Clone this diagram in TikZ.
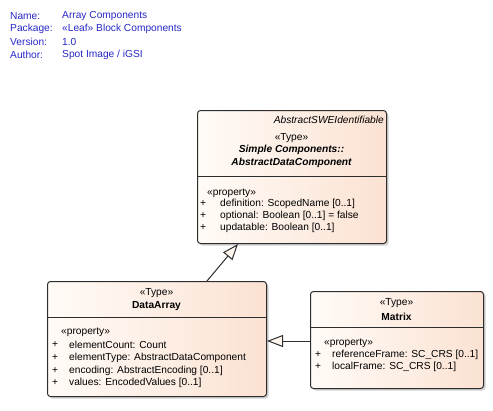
\documentclass[tikz,border=0pt]{standalone}
\usepackage{fontspec}
\setmainfont{Liberation Sans}
\usetikzlibrary{arrows.meta,shadows}
\definecolor{hdrblue}{RGB}{40,40,200}
\definecolor{boxlight}{RGB}{255,251,247}
\definecolor{boxpeach}{RGB}{251,226,210}
\definecolor{boxline}{RGB}{45,45,45}
\definecolor{tipfill}{RGB}{255,247,238}
\tikzset{
  classbox/.style={draw=boxline, line width=1pt, rounded corners=3pt,
    left color=boxlight, right color=boxpeach, anchor=north west, inner sep=0pt,
    drop shadow={shadow xshift=2pt, shadow yshift=-2pt, fill=black!18, opacity=1}},
  txt/.style={inner sep=0pt, font=\fontsize{10.2}{12}\selectfont},
  hdr/.style={txt, anchor=west, text=hdrblue},
  attr/.style={txt, anchor=west},
  divider/.style={draw=boxline, line width=1pt},
  gen/.style={draw=boxline, line width=1pt,
    -{Triangle[length=16pt,width=12pt,fill=tipfill]}}
}
\begin{document}
\begin{tikzpicture}[x=1pt,y=-1pt]
  \useasboundingbox[fill=white] (0,0) rectangle (493,410);
  % diagram header
  \node[hdr] (hname)    at (10,16) {Name:};
  \node[hdr] (hpackage) at (10,29) {Package:};
  \node[hdr] (hversion) at (10,42) {Version:};
  \node[hdr] (hauthor)  at (10,55) {Author:};
  \node[hdr] (vname)    at (62,16) {Array Components};
  \node[hdr] (vpackage) at (62,29) {«Leaf» Block Components};
  \node[hdr] (vversion) at (62,42) {1.0};
  \node[hdr] (vauthor)  at (62,55) {Spot Image / iGSI};
  % AbstractDataComponent
  \begin{scope}[shift={(197,110)}]
    \node[classbox, minimum width=189pt, minimum height=133pt] (adc) at (0,0) {};
    \draw[divider] ([yshift=-66]adc.north west) -- ([yshift=-66]adc.north east);
    \node[txt, anchor=east, font=\fontsize{10.2}{12}\selectfont\itshape] (adcparent) at (187,10) {AbstractSWEIdentifiable};
    \node[txt] (adcstereo) at (94.5,28) {«Type»};
    \node[txt, font=\fontsize{10.2}{12}\selectfont\bfseries\itshape] (adcpkg) at (94.5,40) {Simple Components::};
    \node[txt, font=\fontsize{10.2}{12}\selectfont\bfseries\itshape] (adcname) at (94.5,53) {AbstractDataComponent};
    \node[attr] (adcprop) at (10,83) {«property»};
    \foreach \y/\a in {94/{definition: ScopedName [0..1]},
                       106/{optional: Boolean [0..1] = false},
                       118/{updatable: Boolean [0..1]}} {
      \node[attr] (adcplus\y) at (3,\y) {+};
      \node[attr] (adcattr\y) at (23,\y) {\a};
    }
  \end{scope}
  % DataArray
  \begin{scope}[shift={(47,281)}]
    \node[classbox, minimum width=219pt, minimum height=115pt] (array) at (0,0) {};
    \draw[divider] ([yshift=-36]array.north west) -- ([yshift=-36]array.north east);
    \node[txt] (arraystereo) at (109.5,12) {«Type»};
    \node[txt, font=\fontsize{10.2}{12}\selectfont\bfseries] (arrayname) at (109.5,25) {DataArray};
    \node[attr] (arrayprop) at (14,51) {«property»};
    \foreach \y/\a in {64/{elementCount: Count},
                       77/{elementType: AbstractDataComponent},
                       90/{encoding: AbstractEncoding [0..1]},
                       102/{values: EncodedValues [0..1]}} {
      \node[attr] (arrayplus\y) at (5,\y) {+};
      \node[attr] (arrayattr\y) at (22,\y) {\a};
    }
  \end{scope}
  % Matrix
  \begin{scope}[shift={(310,291)}]
    \node[classbox, minimum width=173pt, minimum height=97pt] (matrix) at (0,0) {};
    \draw[divider] ([yshift=-36]matrix.north west) -- ([yshift=-36]matrix.north east);
    \node[txt] (matrixstereo) at (86.5,12) {«Type»};
    \node[txt, font=\fontsize{10.2}{12}\selectfont\bfseries] (matrixname) at (86.5,26) {Matrix};
    \node[attr] (matrixprop) at (14,52) {«property»};
    \foreach \y/\a in {64/{referenceFrame: SC\_CRS [0..1]},
                       76/{localFrame: SC\_CRS [0..1]}} {
      \node[attr] (matrixplus\y) at (5,\y) {+};
      \node[attr] (matrixattr\y) at (22,\y) {\a};
    }
  \end{scope}
  % generalizations
  \draw[gen] ([xshift=160]array.north west) -- ([xshift=41]adc.south west);
  \draw[gen] ([yshift=-50]matrix.north west) -- ([yshift=-60]array.north east);
\end{tikzpicture}
\end{document}
